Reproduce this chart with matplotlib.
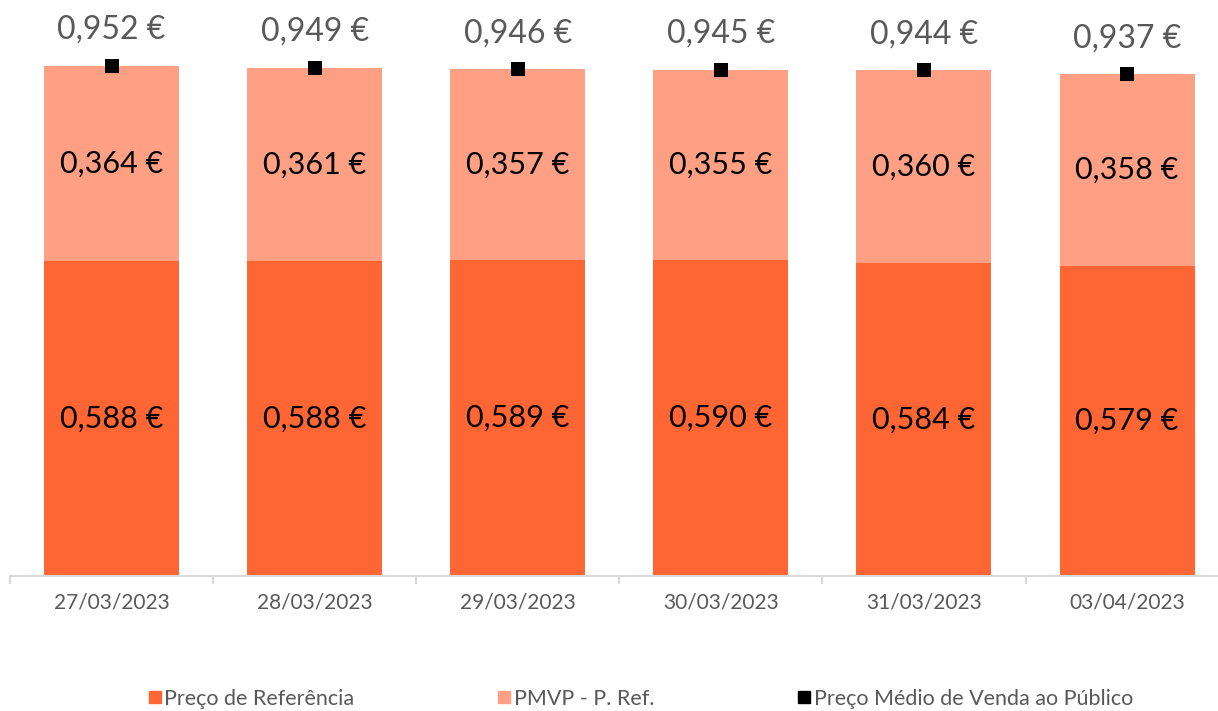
import matplotlib
matplotlib.use("Agg")
import matplotlib.pyplot as plt
from matplotlib.lines import Line2D
import numpy as np

dates = ["27/03/2023", "28/03/2023", "29/03/2023", "30/03/2023", "31/03/2023", "03/04/2023"]
preco_ref = [0.588, 0.588, 0.589, 0.590, 0.584, 0.579]
pmvp_ref = [0.364, 0.361, 0.357, 0.355, 0.360, 0.358]
pmvp = [0.952, 0.949, 0.946, 0.945, 0.944, 0.937]

c_ref = "#FF6633"
c_diff = "#FFA084"
gray = "#595959"

plt.rcParams['font.family'] = ['Lato', 'DejaVu Sans']

fig = plt.figure(figsize=(12.18, 7.11), dpi=100)
W, H = 1218, 711
ax = fig.add_axes([10 / W, (H - 576) / H, 1218.6 / W, 535.7 / H])

x = np.arange(len(dates))
bw = 0.665
ax.bar(x, preco_ref, bw, color=c_ref, zorder=2)
ax.bar(x, pmvp_ref, bw, bottom=preco_ref, color=c_diff, zorder=2)
ax.scatter(x, pmvp, marker='s', s=90, color='black', zorder=3, linewidths=0)

def fmt(v):
    return f"{v:.3f}".replace('.', ',') + " €"

for i in range(len(x)):
    ax.text(x[i], preco_ref[i] / 2, fmt(preco_ref[i]), ha='center', va='center',
            fontsize=22, color='black')
    ax.text(x[i], preco_ref[i] + pmvp_ref[i] / 2, fmt(pmvp_ref[i]), ha='center', va='center',
            fontsize=22, color='black')
    ax.annotate(fmt(pmvp[i]), (x[i], pmvp[i]), xytext=(0, 36), textcoords='offset pixels',
                ha='center', va='center', fontsize=23, color=gray)

ax.set_xlim(-0.5, len(dates) - 0.5)
ax.set_ylim(0, 1.0)
for s in ['top', 'right', 'left']:
    ax.spines[s].set_visible(False)
ax.spines['bottom'].set_color('#D9D9D9')
ax.spines['bottom'].set_linewidth(1.5)
ax.set_yticks([])
ax.set_xticks(x)
ax.set_xticklabels(dates, fontsize=15, color=gray)
ax.tick_params(axis='x', which='major', length=0, pad=12)
ax.set_xticks(np.arange(-0.5, len(dates), 1.0), minor=True)
ax.tick_params(axis='x', which='minor', length=6, color='#D9D9D9', width=1.5)

handles = [
    Line2D([], [], marker='s', linestyle='none', color=c_ref, markersize=9),
    Line2D([], [], marker='s', linestyle='none', color=c_diff, markersize=9),
    Line2D([], [], marker='s', linestyle='none', color='black', markersize=9),
]
labels = ["Preço de Referência", "PMVP - P. Ref.", "Preço Médio de Venda ao Público"]
leg = fig.legend(handles, labels, loc='center', bbox_to_anchor=(640 / W, (H - 699) / H),
                 ncol=3, frameon=False, fontsize=15.5, handletextpad=0.1,
                 columnspacing=6.6, handlelength=0.7)
for t in leg.get_texts():
    t.set_color(gray)

fig.savefig("out.png", dpi=100)
